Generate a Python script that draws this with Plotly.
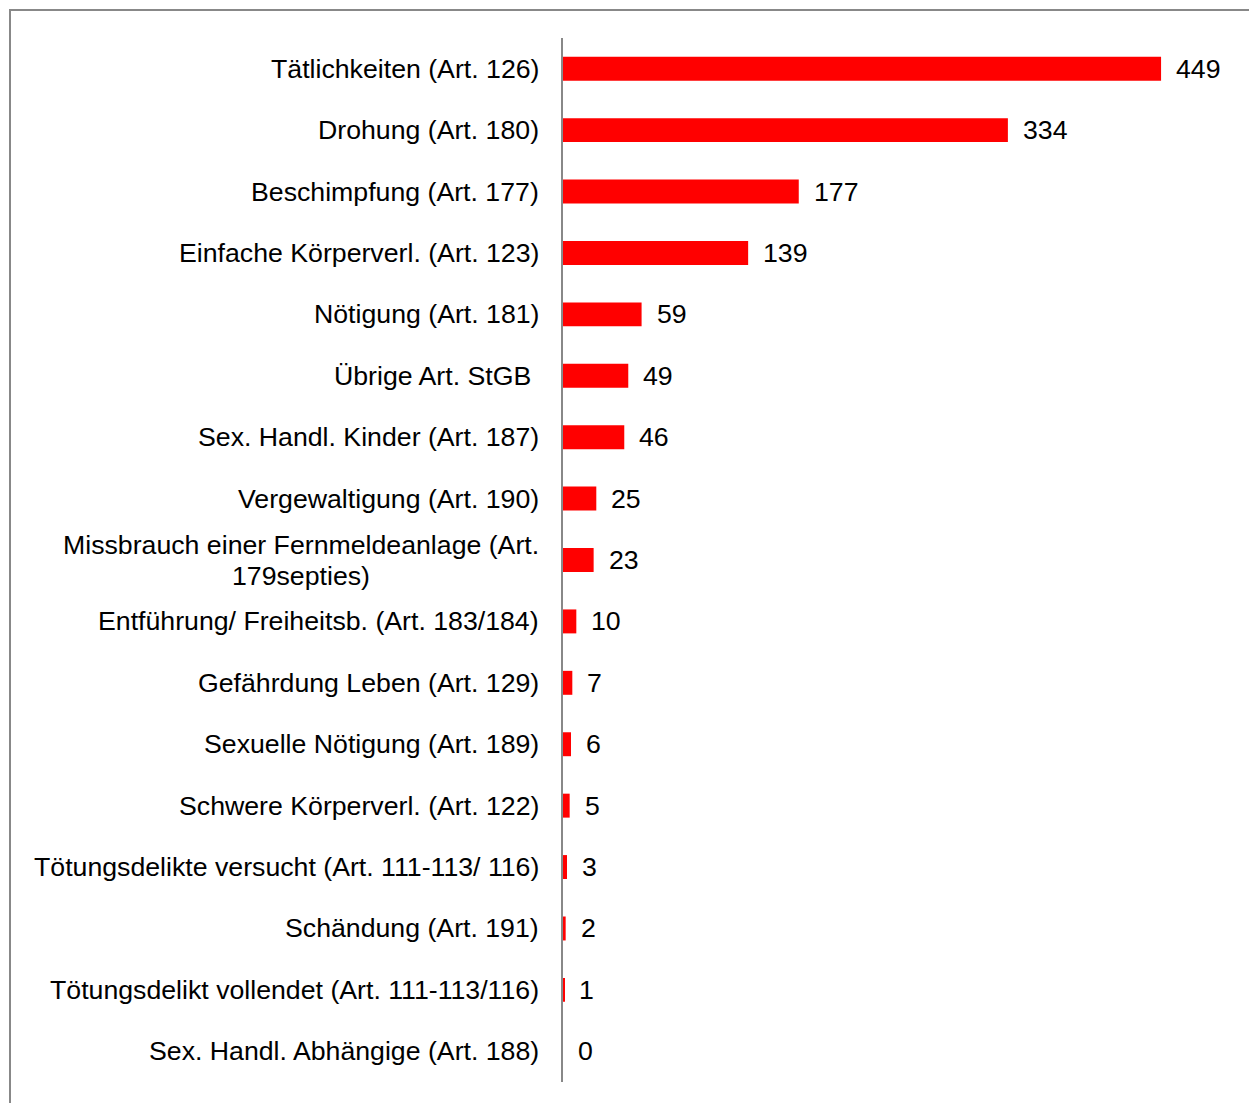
import plotly.graph_objects as go

categories = [
    "Tätlichkeiten (Art. 126)",
    "Drohung (Art. 180)",
    "Beschimpfung (Art. 177)",
    "Einfache Körperverl. (Art. 123)",
    "Nötigung (Art. 181)",
    "Übrige Art. StGB\u00a0",
    "Sex. Handl. Kinder (Art. 187)",
    "Vergewaltigung (Art. 190)",
    "Missbrauch einer Fernmeldeanlage (Art.<br>179septies)",
    "Entführung/ Freiheitsb. (Art. 183/184)",
    "Gefährdung Leben (Art. 129)",
    "Sexuelle Nötigung (Art. 189)",
    "Schwere Körperverl. (Art. 122)",
    "Tötungsdelikte versucht (Art. 111-113/ 116)",
    "Schändung (Art. 191)",
    "Tötungsdelikt vollendet (Art. 111-113/116)",
    "Sex. Handl. Abhängige (Art. 188)",
]
values = [449, 334, 177, 139, 59, 49, 46, 25, 23, 10, 7, 6, 5, 3, 2, 1, 0]

FONT = "Liberation Sans, Arial, sans-serif"
FS = 26.7
ypos = list(range(len(categories)))

fig = go.Figure()
fig.add_trace(go.Bar(
    x=values, y=ypos, orientation="h",
    marker=dict(color="#FF0000", line=dict(width=0)),
    width=0.39, hoverinfo="skip",
))

annotations = []
for i, (c, v) in enumerate(zip(categories, values)):
    lines = c.split("<br>")
    if len(lines) == 1:
        annotations.append(dict(
            x=0, y=i, xref="x", yref="y", text=c, showarrow=False,
            xanchor="right", yanchor="middle", xshift=-22,
            font=dict(family=FONT, size=FS, color="#000000"),
        ))
    else:
        n = len(lines)
        gap = 31
        for k, ln in enumerate(lines):
            annotations.append(dict(
                x=0, y=i, xref="x", yref="y", text=ln, showarrow=False,
                xanchor="center", yanchor="middle", xshift=-262,
                yshift=((n - 1) / 2 - k) * gap,
                font=dict(family=FONT, size=FS, color="#000000"),
            ))
    annotations.append(dict(
        x=v, y=i, xref="x", yref="y", text=str(v), showarrow=False,
        xanchor="left", yanchor="middle", xshift=13,
        font=dict(family=FONT, size=FS, color="#000000"),
    ))

# page body has an 8px margin; figure is placed at (8, 8)
OFF = 8
W, H = 1257 - OFF, 1103 - OFF
L, R, T, B = 563 - OFF, 28, 38 - OFF, 21
pw, ph = W - L - R, H - T - B

def px(x):
    return (x - OFF - L) / pw

def py(y):
    return (H - B - (y - OFF)) / ph

fig.update_layout(
    width=W, height=H,
    margin=dict(l=L, r=R, t=T, b=B),
    paper_bgcolor="white", plot_bgcolor="white",
    showlegend=False,
    annotations=annotations,
    xaxis=dict(range=[0, 500], showgrid=False, zeroline=False,
               showticklabels=False, showline=False, fixedrange=True),
    yaxis=dict(range=[len(categories) - 0.5, -0.5], showgrid=False,
               zeroline=False, showticklabels=False, showline=True,
               linecolor="#888888", linewidth=2, ticks="", fixedrange=True),
    shapes=[dict(type="rect", xref="paper", yref="paper",
                 x0=px(10), x1=px(1300), y0=py(1150), y1=py(10),
                 line=dict(color="#888888", width=2), fillcolor="rgba(0,0,0,0)",
                 layer="below")],
)

fig.write_html("out.html")
